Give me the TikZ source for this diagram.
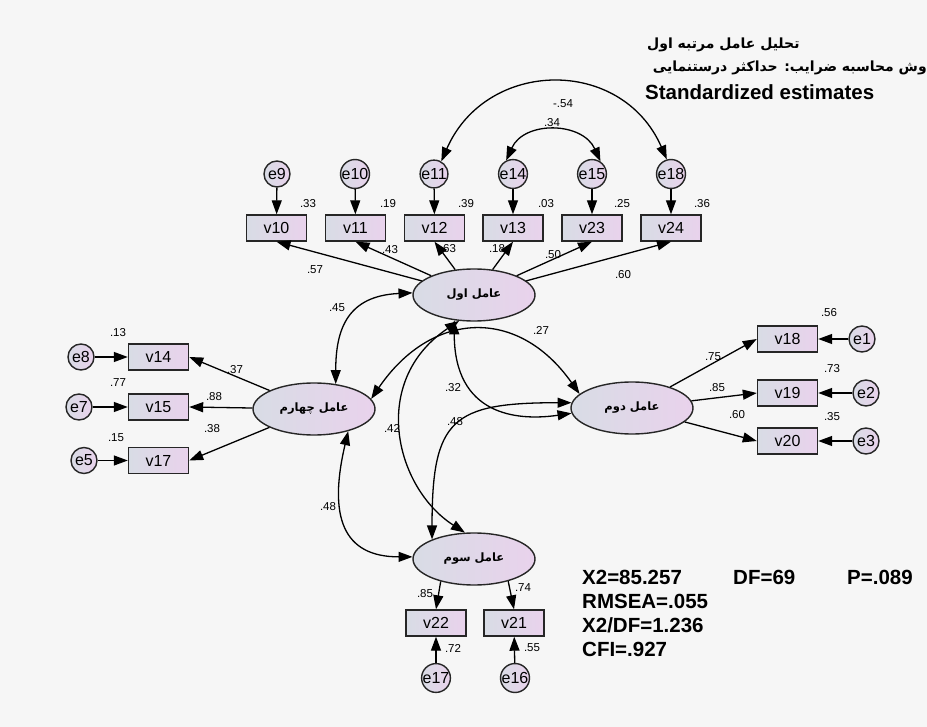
\documentclass[tikz,border=0pt]{standalone}
\usepackage{fontspec}
\setmainfont{Liberation Sans}
\newfontfamily\fa[Script=Arabic]{DejaVu Sans}
\TeXXeTstate=1
\usetikzlibrary{shapes.geometric,arrows.meta,calc}
\definecolor{bgc}{HTML}{F6F6F6}
\definecolor{gL}{HTML}{D8DCE5}
\definecolor{gR}{HTML}{E9D2EC}
\definecolor{bord}{HTML}{262626}
\tikzset{
  obs/.style={draw=bord, line width=1.4pt, minimum width=60pt, minimum height=26pt, inner sep=0pt, left color=gL, right color=gR, font=\fontsize{16}{17}\selectfont},
  lat/.style={ellipse, draw=bord, line width=1.4pt, minimum width=122pt, minimum height=52pt, inner sep=0pt, left color=gL, right color=gR, font=\fa\bfseries\fontsize{11.5}{12}\selectfont},
  err/.style={circle, draw=bord, line width=1.4pt, minimum size=26pt, inner sep=0pt, left color=gL, right color=gR, font=\fontsize{16}{17}\selectfont},
  num/.style={inner sep=0pt, font=\fontsize{11.5}{12}\selectfont},
  stat/.style={inner sep=0pt, anchor=west, font=\bfseries\fontsize{20.5}{22}\selectfont},
  arr/.style={line width=1.3pt, -{Triangle[length=14pt,width=10pt]}},
  cov/.style={line width=1.3pt, {Triangle[length=14pt,width=10pt]}-{Triangle[length=14pt,width=10pt]}},
}
\begin{document}
\begin{tikzpicture}[x=1pt,y=-1pt]
\fill[bgc] (0,0) rectangle (927,727);
\useasboundingbox (0,0) rectangle (927,727);

% titles
\node[inner sep=0pt, anchor=west, font=\fa\bfseries\fontsize{14}{16}\selectfont] (t1) at (647,45) {\beginR تحلیل عامل مرتبه اول\endR};
\node[inner sep=0pt, anchor=east, font=\fa\bfseries\fontsize{14}{16}\selectfont] (t2) at (927,68) {\beginR وش محاسبه ضرایب: حداکثر درستنمایی\endR};
\node[inner sep=0pt, anchor=west, font=\bfseries\fontsize{20.5}{22}\selectfont] (t3) at (645,92) {Standardized estimates};

% latent factors
\node[lat] (f1) at (474,295) {\beginR عامل اول\endR};
\node[lat] (f4) at (314,409) {\beginR عامل چهارم\endR};
\node[lat] (f2) at (632,408) {\beginR عامل دوم\endR};
\node[lat] (f3) at (474,559) {\beginR عامل سوم\endR};

% top observed
\node[obs] (v10) at (276.5,228) {v10};
\node[obs] (v11) at (355.5,228) {v11};
\node[obs] (v12) at (434.5,228) {v12};
\node[obs] (v13) at (513,228) {v13};
\node[obs] (v23) at (592,228) {v23};
\node[obs] (v24) at (671,228) {v24};
\node[err] (e9)  at (277,174) {e9};
\node[err] (e10) at (355,174) {e10};
\node[err] (e11) at (434,174) {e11};
\node[err] (e14) at (513,174) {e14};
\node[err] (e15) at (592,174) {e15};
\node[err] (e18) at (671,174) {e18};

% left observed
\node[obs] (v14) at (158.5,357) {v14};
\node[obs] (v15) at (158.5,407) {v15};
\node[obs] (v17) at (158.5,460.5) {v17};
\node[err] (e8) at (81,357) {e8};
\node[err] (e7) at (79,407) {e7};
\node[err] (e5) at (84,460.5) {e5};

% right observed
\node[obs] (v18) at (787.5,339) {v18};
\node[obs] (v19) at (787.5,393) {v19};
\node[obs] (v20) at (787.5,441) {v20};
\node[err] (e1) at (862,339) {e1};
\node[err] (e2) at (866,393) {e2};
\node[err] (e3) at (866,441) {e3};

% bottom observed
\node[obs] (v22) at (436,623) {v22};
\node[obs] (v21) at (514,623) {v21};
\node[err] (e17) at (436,678) {e17};
\node[err] (e16) at (515,678) {e16};

% error arrows
\foreach \e/\v in {e9/v10,e10/v11,e11/v12,e14/v13,e15/v23,e18/v24,e8/v14,e7/v15,e5/v17,e1/v18,e2/v19,e3/v20,e17/v22,e16/v21}
  \draw[arr] (\e) -- (\v);

% loadings
\foreach \v in {v10,v11,v12,v13,v23,v24} \draw[arr] (f1) -- (\v.south);
\foreach \v in {v14,v15,v17} \draw[arr] (f4) -- (\v.east);
\foreach \v in {v18,v19,v20} \draw[arr] (f2) -- (\v.west);
\draw[arr] (f3.214) -- (v22.north);
\draw[arr] (f3.327) -- (v21.north);

% covariances
\draw[cov] (f1.178) .. controls ($(f1.178)+(-65,3)$) and ($(f4.49)+(0,-55)$) .. (f4.49);
\draw[cov] (f4.10) .. controls ($(f4.10)+(60,-88)$) and ($(f2.165)+(-62,-88)$) .. (f2.165);
\draw[cov] (f1.232) .. controls ($(f1.232)+(0,95)$) and ($(f2.185)+(-55,8)$) .. (f2.185);
\draw[cov] (f1.240) .. controls ($(f1.240)+(-90,60)$) and ($(f3.109)+(-70,-45)$) .. (f3.109);
\draw[cov] (f2.175) .. controls ($(f2.175)+(-120,0)$) and ($(f3.155)+(0,-120)$) .. (f3.155);
\draw[cov] (f4.327) .. controls ($(f4.327)+(-20,85)$) and ($(f3.178)+(-70,0)$) .. (f3.178);
\draw[cov] (e11.60) .. controls ($(e11.60)+(45,-103)$) and ($(e18.106)+(-45,-103)$) .. (e18.106);
\draw[cov] (e14.117) .. controls ($(e14.117)+(18,-40)$) and ($(e15.56)+(-18,-40)$) .. (e15.56);

% labels: R^2
\node[num] (r1) at (308,204) {.33};
\node[num] (r2) at (388,204) {.19};
\node[num] (r3) at (466,204) {.39};
\node[num] (r4) at (546,204) {.03};
\node[num] (r5) at (622,204) {.25};
\node[num] (r6) at (702,204) {.36};
\node[num] (r7) at (118,333) {.13};
\node[num] (r8) at (118,383) {.77};
\node[num] (r9) at (116,438) {.15};
\node[num] (r10) at (829,313) {.56};
\node[num] (r11) at (832,369) {.73};
\node[num] (r12) at (832,417) {.35};
\node[num] (r13) at (425,594) {.85};
\node[num] (r14) at (523,588) {.74};
\node[num] (r15) at (453,648) {.72};
\node[num] (r16) at (532,648) {.55};
% loadings labels
\node[num] (l1) at (315,270) {.57};
\node[num] (l2) at (390,250) {.43};
\node[num] (l3) at (448,249) {.63};
\node[num] (l4) at (497,249) {.18};
\node[num] (l5) at (553,255) {.50};
\node[num] (l6) at (623,275) {.60};
\node[num] (l7) at (235,370) {.37};
\node[num] (l8) at (214,397) {.88};
\node[num] (l9) at (212,429) {.38};
\node[num] (l10) at (713,357) {.75};
\node[num] (l11) at (717,388) {.85};
\node[num] (l12) at (737,415) {.60};
% covariance labels
\node[num] (c1) at (337,308) {.45};
\node[num] (c2) at (541,330) {.27};
\node[num] (c3) at (453,388) {.32};
\node[num] (c4) at (455,422) {.48};
\node[num] (c5) at (392,428) {.42};
\node[num] (c6) at (328,507) {.48};
\node[num] (c7) at (552,123) {.34};
\node[num] (c8) at (563,104) {-.54};

% fit statistics
\node[stat] (s1) at (582,577) {X2=85.257};
\node[stat] (s2) at (733,577) {DF=69};
\node[stat] (s3) at (847,577) {P=.089};
\node[stat] (s4) at (582,601) {RMSEA=.055};
\node[stat] (s5) at (582,625) {X2/DF=1.236};
\node[stat] (s6) at (582,649) {CFI=.927};
\end{tikzpicture}
\end{document}
